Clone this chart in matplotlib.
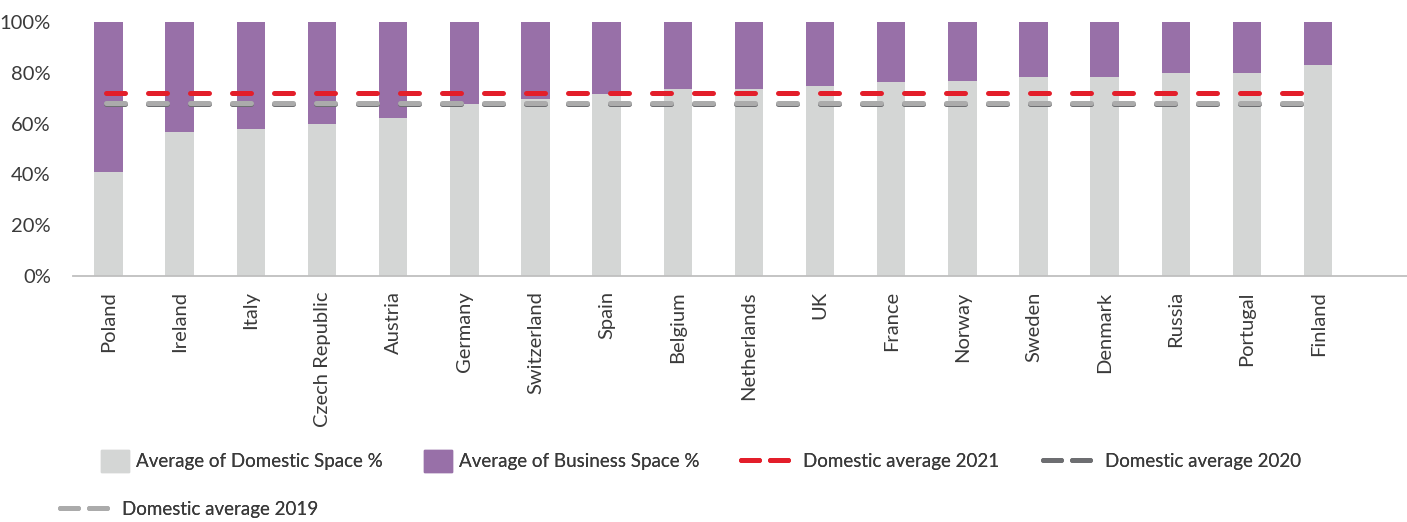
import numpy as np
import matplotlib
matplotlib.use("Agg")
import matplotlib.pyplot as plt
from matplotlib.lines import Line2D
from matplotlib.patches import Patch
from matplotlib.ticker import PercentFormatter

plt.rcParams['font.family'] = ['Lato', 'DejaVu Sans']

countries = ["Poland", "Ireland", "Italy", "Czech Republic", "Austria", "Germany",
             "Switzerland", "Spain", "Belgium", "Netherlands", "UK", "France",
             "Norway", "Sweden", "Denmark", "Russia", "Portugal", "Finland"]
domestic = [41.1, 56.8, 57.9, 60.0, 62.1, 67.8, 69.5, 71.5, 73.6, 73.6, 74.7, 76.3,
            76.8, 78.3, 78.3, 79.9, 79.9, 83.1]
business = [100 - d for d in domestic]
avg_2021 = 72.2
avg_2020 = 67.6
avg_2019 = 68.2

c_dom = "#D4D6D5"
c_bus = "#9870A8"
c_2021 = "#E31E2A"
c_2020 = "#6D6E71"
c_2019 = "#ABABAB"
txt = "#3A3A3A"

W, H = 1407, 522
fig = plt.figure(figsize=(W / 100, H / 100), dpi=100)
ax = fig.add_axes([73 / W, 1 - 276 / H, (W - 73) / W, 254 / H])

x = np.arange(len(countries))
ax.bar(x, domestic, width=0.4, color=c_dom, zorder=2)
ax.bar(x, business, width=0.4, bottom=domestic, color=c_bus, zorder=2)

dash = (3.8, 4.6)
lw = 3.6
xl = [x[0] - 0.04, x[-1] - 0.17]
ax.plot(xl, [avg_2020] * 2, color=c_2020, lw=lw, dashes=dash,
        solid_capstyle='round', dash_capstyle='round', zorder=3)
ax.plot(xl, [avg_2019] * 2, color=c_2019, lw=lw, dashes=dash,
        solid_capstyle='round', dash_capstyle='round', zorder=4)
ax.plot(xl, [avg_2021] * 2, color=c_2021, lw=lw, dashes=dash,
        solid_capstyle='round', dash_capstyle='round', zorder=5)

ax.set_xlim(-0.5, -0.5 + (W - 73) / 71.15)
ax.set_ylim(0, 100)
ax.set_yticks(np.arange(0, 101, 20))
ax.yaxis.set_major_formatter(PercentFormatter(decimals=0))
ax.set_xticks(x)
ax.set_xticklabels(countries, rotation=90, va='top', ha='center')
ax.tick_params(axis='both', length=0, labelsize=14.5, colors=txt)
ax.tick_params(axis='x', pad=11)
ax.tick_params(axis='y', pad=16)
for s in ['top', 'right', 'left']:
    ax.spines[s].set_visible(False)
ax.spines['bottom'].set_color("#BFBFBF")
ax.spines['bottom'].set_linewidth(1.3)
ax.spines['bottom'].set_zorder(6)


def dash_handle(c):
    return Line2D([], [], color=c, lw=lw, dashes=(3.6, 2.2),
                  dash_capstyle='round')


# legend entries placed one by one: (handle, label, left edge px, centre y px, square?)
entries = [
    (Patch(color=c_dom), "Average of Domestic Space %", 101, 461, True),
    (Patch(color=c_bus), "Average of Business Space %", 424, 461, True),
    (dash_handle(c_2021), "Domestic average 2021", 741, 461, False),
    (dash_handle(c_2020), "Domestic average 2020", 1043, 461, False),
    (dash_handle(c_2019), "Domestic average 2019", 60, 509, False),
]
for h, lab, px, py, sq in entries:
    leg = fig.legend([h], [lab], loc='center left', bbox_to_anchor=(px / W, 1 - py / H),
                     frameon=False, fontsize=13.5, borderpad=0, borderaxespad=0,
                     handlelength=1.5 if sq else 2.77, handleheight=1.5 if sq else 0.7,
                     handletextpad=0.35 if sq else 0.55, labelcolor=txt)
    fig.add_artist(leg)

fig.savefig("out.png", dpi=100)
